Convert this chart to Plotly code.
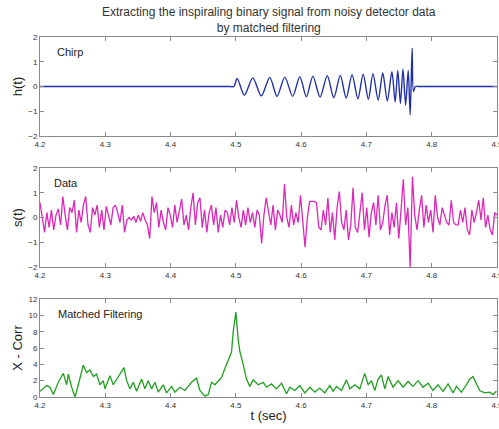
import plotly.graph_objects as go

# ---- Chirp h(t): extrema ----
chirp_t = [4.2, 4.3, 4.4, 4.46, 4.49, 4.497, 4.502, 4.513, 4.526, 4.539, 4.552, 4.563, 4.575, 4.587, 4.598, 4.608,
           4.618, 4.629, 4.640, 4.650, 4.660, 4.669, 4.678, 4.687, 4.695, 4.703, 4.710, 4.718,
           4.725, 4.732, 4.739, 4.744, 4.748, 4.752, 4.756, 4.760, 4.764, 4.767, 4.770, 4.772,
           4.775, 4.78, 4.8, 4.85, 4.9]
chirp_h = [0, 0, 0, 0, 0, 0, 0.33, -0.35, 0.35, -0.38, 0.37, -0.40, 0.38, -0.40, 0.40, -0.42,
           0.42, -0.43, 0.44, -0.45, 0.45, -0.47, 0.48, -0.50, 0.50, -0.52, 0.52, -0.55,
           0.55, -0.58, 0.60, -0.62, 0.65, -0.68, 0.70, -0.75, 0.65, -1.15, 1.55, -0.2,
           0, 0, 0, 0, 0]

# ---- Noisy data s(t), sampled every 3.5 ms from 4.2 s ----
data_t0 = 4.2
data_dt = 0.0035
data_s = [
    0.6, -0.1, -0.6, 0.2, -0.4, 0.3, -0.5, 0.1, 0.35, -0.3,
    0.85, 0.1, -0.5, 0.4, 0.2, 0.7, -0.6, 0.3, -0.2, 0.5,
    0.85, -0.3, -0.6, 0.4, 0.1, 0.5, -0.4, 0.3, -0.5, 0.45,
    0.1, -0.3, 0.4, 0.5, 0.2, -0.2, 0.5, -0.6, -0.1, 0.0,
    -0.1, 0.05, -0.2, 0.1, -0.15, 0.2, -0.1, -0.3, -0.85, 0.85,
    0.2, 0.6, -0.4, 0.3, -0.2, -0.5, 0.4, 0.1, -0.4, 0.5,
    -0.2, 0.3, 0.75, -0.3, 0.1, -0.5, 0.4, 1.0, -0.3, 0.6,
    0.8, -0.4, 0.3, -0.6, 0.2, 0.5, -0.3, 0.4, -0.6, 0.1,
    -0.4, 0.3, 0.2, -0.3, 0.4, -0.2, 0.7, 0.0, -0.4, 0.3,
    -0.3, 0.4, -0.2, 0.2, -0.4, 0.3, 0.1, -1.05, 0.1, 0.8,
    0.2, -0.3, 0.5, -0.5, 0.3, 0.1, -0.2, 1.35, 0.0, -0.4,
    0.5, -0.3, 0.2, -0.2, 0.9, -0.1, -1.2, 0.0, 0.65, 0.65,
    0.65, 0.6, -0.4, -0.5, 0.3, -0.3, 0.8, -0.6, 0.2, -0.9,
    0.4, 1.05, -0.2, -0.5, 0.3, -0.9, -0.3, 1.2, -0.4, -0.6,
    0.3, 1.0, -0.5, 0.4, -0.8, 0.2, 0.6, -0.3, 0.9, -0.5,
    -0.2, 0.5, 0.9, -0.7, 0.2, -0.4, 0.6, -0.85, 0.3, 1.55,
    -0.3, 0.4, -2.0, 1.65, 0.1, -0.5, 0.3, 0.9, -0.4, 0.5,
    -0.2, 0.3, -0.6, 0.9, 0.0, -0.3, 0.4, 0.1, -0.2, -0.3,
    0.7, -0.2, -0.3, -0.3, 0.3, -0.2, 0.4, -0.5, -0.7, 0.3,
    -0.2, 0.2, 0.7, -0.1, 0.8, -0.4, 0.1, -0.5, -0.7, 0.2,
    0.1,
]
data_t = [data_t0 + i * data_dt for i in range(len(data_s))]

# ---- Matched filter output ----
corr_t = [4.2000, 4.2102, 4.2153, 4.2204, 4.2281, 4.2357, 4.2408, 4.2434, 4.2485, 4.2536,
          4.2587, 4.2663, 4.2714, 4.2765, 4.2816, 4.2867, 4.2918, 4.2969, 4.2995, 4.3071,
          4.3122, 4.3199, 4.3286, 4.3327, 4.3378, 4.3429, 4.3480, 4.3556, 4.3607, 4.3658,
          4.3709, 4.3760, 4.3811, 4.3888, 4.3939, 4.4015, 4.4066, 4.4143, 4.4219, 4.4321,
          4.4398, 4.4449, 4.4526, 4.4577, 4.4628, 4.4679, 4.4730, 4.4781, 4.4832, 4.4883,
          4.4934, 4.4959, 4.5000, 4.5036, 4.5061, 4.5112, 4.5163, 4.5214, 4.5265, 4.5342,
          4.5418, 4.5469, 4.5546, 4.5622, 4.5699, 4.5776, 4.5827, 4.5903, 4.5980, 4.6056,
          4.6133, 4.6209, 4.6286, 4.6362, 4.6439, 4.6490, 4.6541, 4.6617, 4.6694, 4.6745,
          4.6821, 4.6898, 4.6974, 4.7026, 4.7077, 4.7128, 4.7179, 4.7230, 4.7281, 4.7332,
          4.7408, 4.7485, 4.7561, 4.7638, 4.7714, 4.7791, 4.7867, 4.7944, 4.8020, 4.8097,
          4.8173, 4.8250, 4.8327, 4.8378, 4.8454, 4.8531, 4.8582, 4.8633, 4.8684, 4.8735,
          4.8811, 4.8888, 4.8939, 4.8990]
corr_v = [0.7, 1.4, 1.2, 0.3, 1.8, 2.9, 1.5, 2.8, 1.2, 0.0,
          1.5, 3.9, 3.0, 3.3, 2.5, 2.8, 1.5, 2.0, 1.0, 2.6,
          1.5, 2.5, 3.6, 2.0, 1.0, 1.8, 0.7, 2.2, 1.0, 2.0,
          1.0, 1.8, 0.6, 1.5, 0.5, 1.3, 0.6, 1.2, 0.8, 1.8,
          2.3, 0.8, 0.1, 0.3, 1.8, 1.5, 2.0, 2.4, 3.5, 4.5,
          5.5, 8.0, 10.4, 7.0, 5.6, 4.0, 2.2, 1.3, 2.1, 1.5,
          1.8, 1.2, 1.6, 1.0, 1.7, 0.4, 1.2, 0.8, 1.4, 0.5,
          1.2, 0.6, 1.1, 0.5, 1.4, 0.7, 1.3, 0.8, 2.1, 1.0,
          1.5, 1.0, 2.9, 1.5, 2.0, 0.8, 2.2, 2.7, 1.0, 2.5,
          1.2, 2.0, 1.2, 1.9, 1.3, 2.0, 1.2, 1.7, 0.8, 1.5,
          0.7, 1.6, 0.5, 1.3, 0.6, 1.5, 2.2, 2.5, 1.6, 0.8,
          0.5, 0.6, 0.3, 0.7]

x_ticks = [4.2, 4.3, 4.4, 4.5, 4.6, 4.7, 4.8, 4.9]

FONT = "Liberation Sans, Arial, sans-serif"
AX_COL = "#8a8a8a"
TXT_COL = "#333333"

fig = go.Figure()
fig.add_trace(go.Scatter(x=chirp_t, y=chirp_h, mode="lines",
                         line=dict(color="#2030a8", width=1.4, shape="spline", smoothing=0.8),
                         xaxis="x", yaxis="y", showlegend=False))
fig.add_trace(go.Scatter(x=data_t, y=data_s, mode="lines", line=dict(color="#dc28b8", width=1.3),
                         xaxis="x2", yaxis="y2", showlegend=False))
fig.add_trace(go.Scatter(x=corr_t, y=corr_v, mode="lines", line=dict(color="#1fa01f", width=1.3),
                         xaxis="x3", yaxis="y3", showlegend=False))

def xax(anchor):
    return dict(range=[4.2, 4.9], tickvals=x_ticks, ticktext=[f"{v:.1f}" for v in x_ticks],
                anchor=anchor, domain=[0, 1], showline=True, linecolor=AX_COL, linewidth=1,
                mirror="ticks", ticks="inside", ticklen=4, tickcolor=AX_COL,
                ticklabeloverflow="allow", automargin=False,
                showgrid=False, zeroline=False, tickfont=dict(size=8, color=TXT_COL, family=FONT))

def yax(anchor, dom, rng, tv, title):
    return dict(range=rng, tickvals=tv, anchor=anchor, domain=dom, showline=True, linecolor=AX_COL,
                linewidth=1, mirror="ticks", ticks="inside", ticklen=4, tickcolor=AX_COL,
                automargin=False,
                showgrid=False, zeroline=False, tickfont=dict(size=8, color=TXT_COL, family=FONT),
                title=dict(text=title, font=dict(size=13, color="#222222", family=FONT), standoff=2))

fig.update_layout(
    width=499, height=429,
    margin=dict(l=40, r=2, t=37, b=32),
    paper_bgcolor="white", plot_bgcolor="white",
    font=dict(family=FONT),
    xaxis=xax("y"), xaxis2=xax("y2"), xaxis3=xax("y3"),
    yaxis=yax("x", [0.725, 1.0], [-2, 2], [-2, -1, 0, 1, 2], "h(t)"),
    yaxis2=yax("x2", [0.361, 0.636], [-2, 2], [-2, -1, 0, 1, 2], "s(t)"),
    yaxis3=yax("x3", [0.0, 0.272], [0, 12], [0, 2, 4, 6, 8, 10, 12], "X - Corr"),
)
fig.layout.xaxis3.title = dict(text="t (sec)", font=dict(size=13, color="#222222", family=FONT), standoff=2)

anns = [
    dict(text="Extracting the inspiraling binary signal from noisy detector data<br>by matched filtering",
         xref="paper", yref="paper", x=0.5, y=1.0, yshift=34, xanchor="center", yanchor="top",
         showarrow=False, font=dict(size=12, color="#333333", family=FONT)),
    dict(text="Chirp", xref="x domain", yref="y domain", x=0.033, y=0.93, xanchor="left", yanchor="top",
         showarrow=False, font=dict(size=11, color="#222222", family=FONT)),
    dict(text="Data", xref="x2 domain", yref="y2 domain", x=0.027, y=0.93, xanchor="left", yanchor="top",
         showarrow=False, font=dict(size=11, color="#222222", family=FONT)),
    dict(text="Matched Filtering", xref="x3 domain", yref="y3 domain", x=0.035, y=0.93, xanchor="left", yanchor="top",
         showarrow=False, font=dict(size=11, color="#222222", family=FONT)),
]
fig.update_layout(annotations=anns)

fig.write_html("out.html")
